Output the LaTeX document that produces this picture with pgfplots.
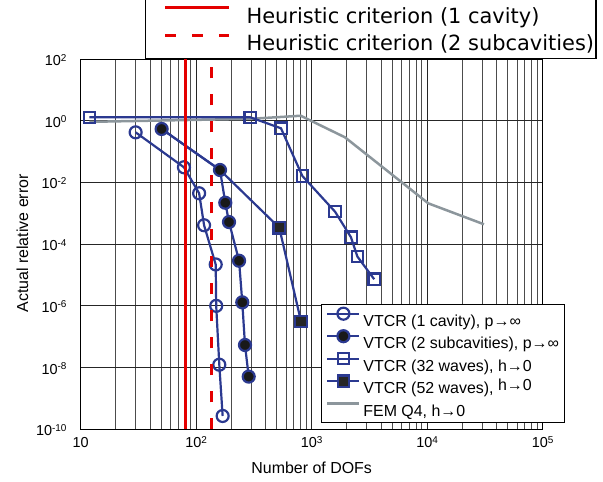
\documentclass[border=0pt]{standalone}
\usepackage{fontspec}
\setmainfont{Liberation Sans}
\newfontfamily\dejavu{DejaVu Sans}
\usepackage{pgfplots}
\pgfplotsset{compat=1.18}

\definecolor{vblue}{RGB}{43,57,144}
\definecolor{femgray}{RGB}{140,150,156}
\definecolor{hred}{RGB}{228,0,0}

% power-of-ten tick label in text font
\newcommand{\pw}[1]{10\raisebox{4.5bp}{\fontsize{10}{10}\selectfont #1}}

\pgfplotsset{
  c1/.style={vblue, line width=2.2bp, mark=o, mark size=6bp},
  c2/.style={vblue, line width=2.2bp, mark=*, mark size=6bp,
    mark options={fill=black!90, draw=vblue}},
  s32/.style={vblue, line width=2.2bp, mark=square, mark size=5.7bp},
  s52/.style={vblue, line width=2.2bp, mark=square*, mark size=5.7bp,
    mark options={fill=black!85, draw=vblue}},
  fem/.style={femgray, line width=2.5bp, no markers},
}

\begin{document}
\begin{tikzpicture}
\useasboundingbox (-80.7bp,-52.7bp) rectangle (522.3bp,429.3bp);
\begin{axis}[
  at={(0bp,0bp)}, anchor=south west,
  scale only axis, width=462bp, height=370.3bp,
  xmode=log, ymode=log,
  xmin=10, xmax=1e5, ymin=1e-10, ymax=1e2,
  xtick={10,100,1000,10000,100000},
  xticklabels={10,\pw{2},\pw{3},\pw{4},\pw{5}},
  minor xtick={20,30,40,50,60,70,80,90,200,300,400,500,600,700,800,900,
    2000,3000,4000,5000,6000,7000,8000,9000,
    20000,30000,40000,50000,60000,70000,80000,90000},
  ytick={1e-10,1e-8,1e-6,1e-4,1e-2,1,1e2},
  yticklabels={\pw{-10},\pw{-8},\pw{-6},\pw{-4},\pw{-2},\pw{0},\pw{2}},
  xmajorgrids, xminorgrids, ymajorgrids,
  major grid style={black!85, line width=0.9bp},
  minor grid style={black!70, line width=0.9bp},
  major tick length=0pt, minor tick length=0pt,
  axis line style={black, line width=0.9bp},
  tick label style={font=\fontsize{14.5}{15}\selectfont},
  xticklabel style={inner sep=0pt, anchor=base, yshift=-18.4bp},
  yticklabel style={inner sep=0pt, anchor=base east, xshift=-14bp, yshift=-6.5bp},
  xlabel={Number of DOFs},
  ylabel={Actual relative error},
  label style={font=\fontsize{16}{16}\selectfont},
  xlabel style={at={(axis description cs:0.5,0)}, anchor=center, yshift=-38bp},
  ylabel style={at={(axis description cs:-0.126,0.502)}, anchor=center},
  legend style={at={(0.5195,0.3384)}, anchor=north west,
    draw=black, line width=0.9bp, fill=white,
    inner xsep=5bp, inner ysep=3bp, row sep=0pt, column sep=0pt,
    font=\fontsize{16}{16}\selectfont,
    nodes={inner sep=0pt, text height=19bp, text depth=3.5bp},
    cells={anchor=west}},
  legend image code/.code={
    \path[draw=none, fill=none] (0bp,0bp) -- (37bp,0bp);
    \draw[mark repeat=2, mark phase=2, #1]
      plot coordinates {(1bp,5bp) (17bp,5bp) (33bp,5bp)};},
]
% FEM Q4, h -> 0
\addplot[fem, forget plot] coordinates {
  (11.9,0.92) (294,1.15) (803,1.45) (1941,0.29) (10220,2.1e-3) (31000,4.4e-4)};
% VTCR (52 waves), h -> 0 (first two points hidden under the 2-subcavity circles)
\addplot[s52, mark indices={3,4}, forget plot] coordinates {
  (50.2,0.54) (160.7,0.0253) (524,3.4e-4) (809,3.07e-7)};
% VTCR (32 waves), h -> 0
\addplot[s32, forget plot] coordinates {
  (11.9,1.29) (294,1.29) (542,0.568) (830,0.0162) (1592,1.13e-3)
  (2188,1.67e-4) (2483,4.0e-5) (3475,7.3e-6)};
% VTCR (1 cavity), p -> inf
\addplot[c1, forget plot] coordinates {
  (29.9,0.42) (78.3,0.031) (106,4.45e-3) (117,4.1e-4) (147.5,2.2e-5)
  (149,1.0e-6) (158.5,1.24e-8) (169.4,2.7e-10)};
% VTCR (2 subcavities), p -> inf
\addplot[c2, forget plot] coordinates {
  (50.2,0.54) (160.7,0.0253) (178.6,2.2e-3) (192.3,5.2e-4) (235,2.9e-5)
  (250.6,1.3e-6) (264.5,5.4e-8) (284.8,5.1e-9)};

\addlegendimage{c1}
\addlegendentry{VTCR (1 cavity), p→∞}
\addlegendimage{c2}
\addlegendentry{VTCR (2 subcavities), p→∞}
\addlegendimage{s32}
\addlegendentry{VTCR (32 waves), h→0}
\addlegendimage{s52}
\addlegendentry{VTCR (52 waves), \raisebox{3bp}{h→0}}
\addlegendimage{fem}
\addlegendentry{FEM Q4, h→0}
\end{axis}

% heuristic criteria with their own legend above the plot
\begin{axis}[
  at={(0bp,0bp)}, anchor=south west,
  scale only axis, width=462bp, height=370.3bp,
  xmode=log, ymode=log,
  xmin=10, xmax=1e5, ymin=1e-10, ymax=1e2,
  hide axis,
  legend style={at={(0.139,1)}, anchor=south west,
    draw=black, line width=1.3bp, fill=white,
    inner xsep=2bp, inner ysep=2.4bp, row sep=0pt, column sep=0pt,
    font=\dejavu\fontsize{21}{21}\selectfont,
    nodes={inner sep=0pt, text height=22.6bp, text depth=5bp},
    cells={anchor=west}},
  legend image code/.code={
    \path[draw=none, fill=none] (0bp,0bp) -- (99bp,0bp);
    \draw[#1] (17.6bp,7bp) -- (81.6bp,7bp);},
]
\addplot[hred, line width=3bp] coordinates {(81,1e-10) (81,1e2)};
\addplot[hred, line width=3bp, dash pattern=on 11bp off 16bp] coordinates {(136,1e-10) (136,1e2)};
\legend{Heuristic criterion (1 cavity), Heuristic criterion (2 subcavities)}
\end{axis}
\end{tikzpicture}
\end{document}
